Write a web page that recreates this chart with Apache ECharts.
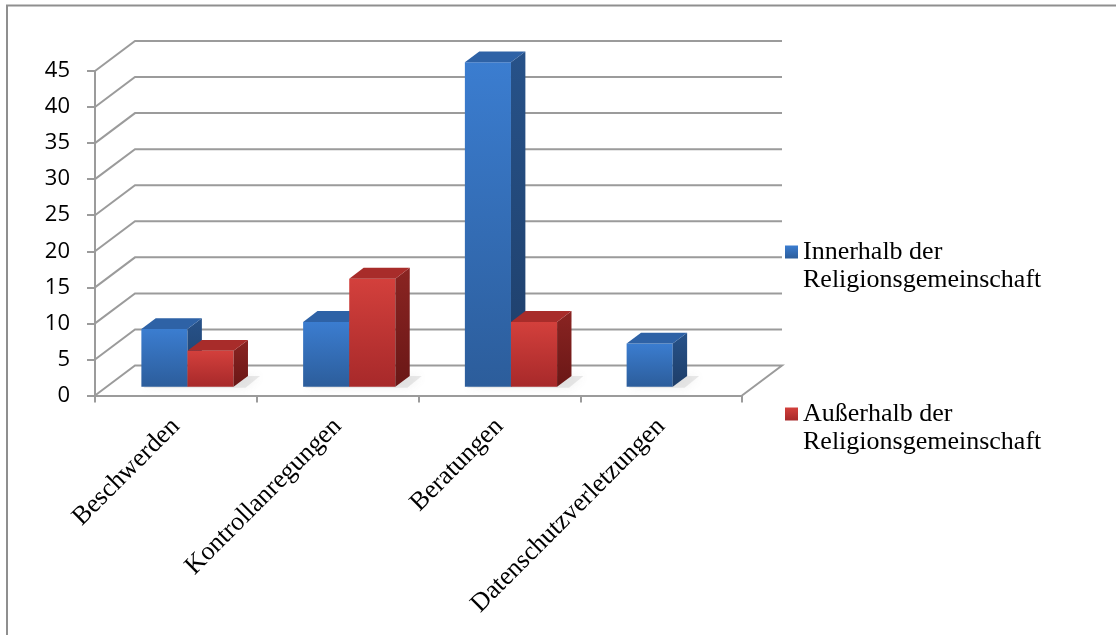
<!DOCTYPE html>
<html><head><meta charset="utf-8">
<script src="https://cdn.jsdelivr.net/npm/echarts@6/dist/echarts.min.js"></script>
<style>html,body{margin:0;padding:0;background:#fff}#c{width:1116px;height:635px}</style>
</head><body><div id="c"></div>
<script>
// ---- data ----
const categories = ['Beschwerden', 'Kontrollanregungen', 'Beratungen', 'Datenschutzverletzungen'];
const innerhalb = [8, 9, 45, 6];
const ausserhalb = [5, 15, 9, 0];
const yTicks = [0, 5, 10, 15, 20, 25, 30, 35, 40, 45];
const seriesNames = ['Innerhalb der\nReligionsgemeinschaft', 'Außerhalb der\nReligionsgemeinschaft'];

// ---- 3D look constants (style, not data) ----
const DX = 40, DY = -30;      // full depth of the floor
const T0 = 0.29, TD = 0.36;   // bar front depth and bar depth (fractions)
const BAR_FRAC = 0.285;       // bar width as share of category band
const LINE = '#9b9b9b';

const G = echarts.graphic;
const palettes = [
  { front: new G.LinearGradient(0,0,0,1,[{offset:0,color:'#3b7dd0'},{offset:1,color:'#2c5d9b'}]),
    side:  new G.LinearGradient(0,0,0,1,[{offset:0,color:'#275289'},{offset:1,color:'#1e3e69'}]),
    top:   '#2e62a6',
    legend: new G.LinearGradient(0,0,0,1,[{offset:0,color:'#3b7dd0'},{offset:1,color:'#2c5d9b'}]) },
  { front: new G.LinearGradient(0,0,0,1,[{offset:0,color:'#d3403c'},{offset:1,color:'#a7292a'}]),
    side:  new G.LinearGradient(0,0,0,1,[{offset:0,color:'#8a2422'},{offset:1,color:'#6a1716'}]),
    top:   '#a82c2a',
    legend: new G.LinearGradient(0,0,0,1,[{offset:0,color:'#d3403c'},{offset:1,color:'#a7292a'}]) }
];

function barRender(sIdx) {
  const pal = palettes[sIdx];
  return function (params, api) {
    const i = api.value(0), v = api.value(1);
    if (!v) return;
    const base = api.coord([i, 0]), top = api.coord([i, v]);
    const band = api.size([1, 0])[0];
    const w = band * BAR_FRAC;
    const ox = DX * T0, oy = DY * T0, ddx = DX * TD, ddy = DY * TD;
    const x0 = base[0] + ox - w + sIdx * w, x1 = x0 + w;
    const yb = base[1] + oy, yt = top[1] + oy;
    return { type: 'group', children: [
      { type: 'rect', shape: { x: x0, y: yt, width: w, height: yb - yt }, style: { fill: pal.front } },
      { type: 'polygon', shape: { points: [[x1, yt], [x1 + ddx, yt + ddy], [x1 + ddx, yb + ddy], [x1, yb]] }, style: { fill: pal.side } },
      { type: 'polygon', shape: { points: [[x0, yt], [x0 + ddx, yt + ddy], [x1 + ddx, yt + ddy], [x1, yt]] }, style: { fill: pal.top } }
    ]};
  };
}

function shadowRender(params, api) {
  const i = api.value(0);
  const a = api.value(1), b = api.value(2);
  if (!a && !b) return;
  const base = api.coord([i, 0]);
  const band = api.size([1, 0])[0];
  const w = band * BAR_FRAC;
  const ox = DX * T0, oy = DY * T0, ddx = DX * TD, ddy = DY * TD;
  const x0 = base[0] + ox - w + 2;
  const x1 = base[0] + ox + (b ? w : 0) + 12;
  const yb = base[1] + oy;
  return { type: 'polygon',
    shape: { points: [[x0, yb + 1], [x1, yb + 1], [x1 + ddx, yb + ddy], [x0 + ddx, yb + ddy]] },
    style: { fill: 'rgba(160,160,160,0.22)', shadowBlur: 10, shadowColor: 'rgba(110,110,110,0.45)' } };
}

function gridRender(params, api) {
  const v = api.value(1);
  const p0 = api.coord([0, v]);
  const pn = api.coord([categories.length - 1, v]);
  const band = api.size([1, 0])[0];
  const xl = p0[0] - band / 2, xr = pn[0] + band / 2, y = p0[1];
  const pts = [[xl, y], [xl + DX, y + DY], [xr + DX, y + DY]];
  if (v === 0) pts.push([xr, y]);
  return { type: 'polyline', shape: { points: pts }, style: { stroke: LINE, lineWidth: 2, fill: null } };
}

const chart = echarts.init(document.getElementById('c'), null, { renderer: 'canvas' });
chart.setOption({
  animation: false,
  backgroundColor: '#fff',
  graphic: [{ type: 'rect', shape: { x: 7, y: 5.5, width: 1400, height: 900 }, style: { fill: null, stroke: '#8f8f8f', lineWidth: 2 }, silent: true }],
  grid: { left: 95, right: 374, top: 71, bottom: 239.5 },
  legend: {
    orient: 'vertical', left: 785, top: 210, itemGap: 78, itemWidth: 13, itemHeight: 13, padding: 0,
    data: seriesNames, icon: 'rect',
    formatter: (n) => '\n' + n,
    textStyle: { fontFamily: 'Liberation Serif', fontSize: 26, lineHeight: 28, color: '#000' }
  },
  xAxis: {
    type: 'category', data: categories,
    axisLine: { lineStyle: { color: LINE, width: 2 } },
    axisTick: { show: true, length: 7, lineStyle: { color: LINE, width: 2 } },
    axisLabel: { rotate: 45, interval: 0, margin: 27, fontFamily: 'Liberation Serif', fontSize: 26, color: '#000' },
    splitLine: { show: false }
  },
  yAxis: {
    type: 'value', min: 0, max: 45, interval: 5,
    axisLine: { show: true, lineStyle: { color: LINE, width: 2 } },
    axisTick: { show: true, length: 8, lineStyle: { color: LINE, width: 2 } },
    axisLabel: { margin: 25, fontFamily: 'Open Sans', fontSize: 22, color: '#000' },
    splitLine: { show: false }
  },
  series: [
    { type: 'custom', name: 'grid', z: 1, clip: false, silent: true, renderItem: gridRender,
      data: yTicks.map(v => [0, v]) },
    { type: 'custom', name: 'shadow', z: 2, clip: false, silent: true, renderItem: shadowRender,
      data: categories.map((c, i) => [i, innerhalb[i], ausserhalb[i]]) },
    { type: 'custom', name: seriesNames[0], z: 3, clip: false, renderItem: barRender(0),
      itemStyle: { color: palettes[0].legend },
      data: categories.map((c, i) => [i, innerhalb[i]]) },
    { type: 'custom', name: seriesNames[1], z: 4, clip: false, renderItem: barRender(1),
      itemStyle: { color: palettes[1].legend },
      data: categories.map((c, i) => [i, ausserhalb[i]]) }
  ]
});
</script></body></html>
